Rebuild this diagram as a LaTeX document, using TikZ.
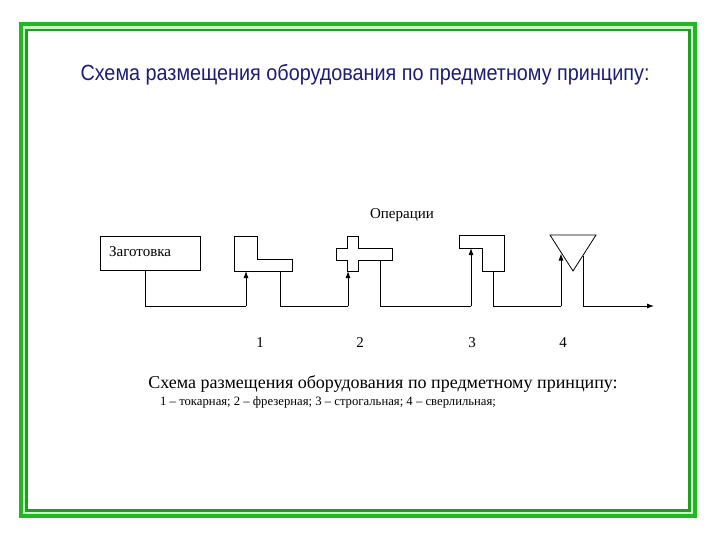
\documentclass[tikz,border=0pt]{standalone}
\usepackage{fontspec}
\setmainfont{Liberation Serif}
\newfontfamily\titlefont{Liberation Sans}
\usetikzlibrary{arrows.meta}
\definecolor{bgreen}{HTML}{22B822}
\definecolor{dgreen}{HTML}{1E9E1E}
\definecolor{lgreen}{HTML}{C8F4C8}
\definecolor{navy}{HTML}{1C1C78}
\tikzset{
  machine/.style={draw=black, line width=0.8pt, fill=white},
  link/.style={draw=black, line width=0.8pt},
  feed/.style={draw=black, line width=0.9pt, -{Latex[length=7pt,width=5pt]}},
  lbl/.style={font=\fontsize{15}{17}\selectfont, inner sep=0pt},
}
\begin{document}
\begin{tikzpicture}[x=1pt,y=-1pt]
\useasboundingbox (0,0) rectangle (720,540);
% frame
\draw[lgreen, line width=9pt] (23.5,26.5) rectangle (692.5,513.5);
\draw[bgreen, line width=4pt] (21,24.5) rectangle (695,516);
\draw[dgreen, line width=2.5pt] (26.5,30) rectangle (689.5,510.5);
% title
\node[font=\titlefont\fontsize{22}{25}\selectfont, text=navy, inner sep=0pt, xscale=0.9] (title) at (365,75) {Схема размещения оборудования по предметному принципу:};
% operations label
\node[lbl] (ops) at (402,215) {Операции};
% blank box
\node[draw, line width=0.8pt, minimum width=100pt, minimum height=34pt, anchor=north west, inner sep=0pt] (blank) at (100,236) {};
\node[lbl, anchor=west] (blanktxt) at (109,252) {Заготовка};
% machine 1: L-shape
\draw[machine] (234,236) -- (257,236) -- (257,259) -- (292,259) -- (292,271) -- (234,271) -- cycle;
% machine 2: cross
\draw[machine] (347,236) -- (358,236) -- (358,248) -- (392,248) -- (392,260) -- (358,260) -- (358,271) -- (347,271) -- (347,260) -- (336,260) -- (336,248) -- (347,248) -- cycle;
% machine 3: inverted L
\draw[machine] (459,235) -- (504,235) -- (504,271) -- (482,271) -- (482,248) -- (459,248) -- cycle;
% machine 4: triangle
\draw[machine] (550,235) -- (596,235) -- (573,271) -- cycle;
% named points
\coordinate (b0) at (145,270);
\coordinate (c0) at (145,306);
\coordinate (in1) at (246,271);
\coordinate (d1) at (246,306);
\coordinate (out1) at (280,271);
\coordinate (e1) at (280,306);
\coordinate (in2) at (348,271);
\coordinate (d2) at (348,306);
\coordinate (out2) at (380,260);
\coordinate (e2) at (380,306);
\coordinate (in3) at (471,248);
\coordinate (d3) at (471,306);
\coordinate (out3) at (493,271);
\coordinate (e3) at (493,306);
\coordinate (in4) at (561,253.5);
\coordinate (d4) at (561,306);
\coordinate (out4) at (583,255.5);
\coordinate (e4) at (583,306);
\coordinate (end) at (654,306);
% flow
\draw[link] (b0) -- (c0) -- (d1);
\draw[feed] (d1) -- (in1);
\draw[link] (out1) -- (e1) -- (d2);
\draw[feed] (d2) -- (in2);
\draw[link] (out2) -- (e2) -- (d3);
\draw[feed] (d3) -- (in3);
\draw[link] (out3) -- (e3) -- (d4);
\draw[feed] (d4) -- (in4);
\draw[link] (out4) -- (e4);
\draw[feed] (e4) -- (end);
% numbers
\node[lbl] (n1) at (260,343) {1};
\node[lbl] (n2) at (360,343) {2};
\node[lbl] (n3) at (472,343) {3};
\node[lbl] (n4) at (563,343) {4};
% caption
\node[font=\fontsize{18}{21}\selectfont, inner sep=0pt] (cap) at (383,384) {Схема размещения оборудования по предметному принципу:};
\node[font=\fontsize{12.7}{15}\selectfont, inner sep=0pt, anchor=west] (cap2) at (160,402) {1 – токарная;\ 2 – фрезерная;\ 3 – строгальная; 4 – сверлильная;};
\end{tikzpicture}
\end{document}
